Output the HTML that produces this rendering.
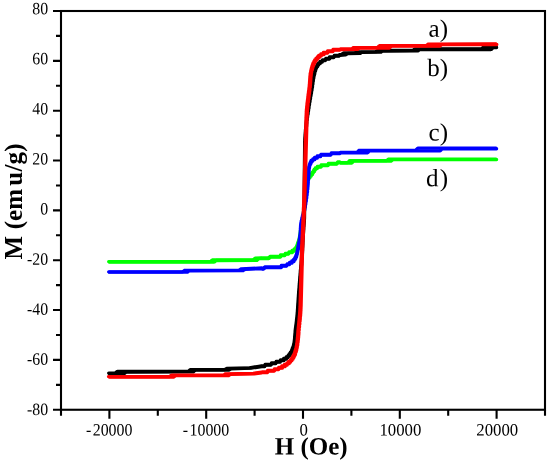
<!DOCTYPE html>
<html><head><meta charset="utf-8"><title>M-H curves</title>
<style>
html,body{margin:0;padding:0;background:#fff;}
body{width:550px;height:460px;overflow:hidden;}
svg{display:block;}
text{font-family:"Liberation Serif","Times New Roman",serif;fill:#000;}
.tk{font-size:17.3px;}
.cl{font-size:25px;}
.ax{font-size:25px;font-weight:bold;}
</style></head><body>
<svg width="550" height="460" viewBox="0 0 550 460">
<rect width="550" height="460" fill="#fff"/>
<polyline points="108.7,261.6 210.2,261.5 210.6,261.4 211.9,260.3 212.3,260.0 212.7,259.9 252.7,259.9 253.2,259.8 254.8,258.4 255.2,258.2 261.7,258.0 262.2,258.0 269.7,258.0 270.2,256.5 280.0,256.5 280.5,255.0 284.8,255.0 285.3,253.5 288.5,253.5 289.0,252.0 291.7,252.0 292.1,250.5 293.8,250.5 294.2,249.0 295.6,249.0 295.8,247.5 296.3,247.5 296.6,246.0 297.0,246.0 297.1,244.5 297.4,244.5 297.6,243.0 298.0,243.0 298.2,241.5 298.5,241.5 298.7,240.0 299.0,240.0 299.1,238.5 299.3,238.5 299.4,237.0 299.5,237.0 299.6,235.5 299.8,235.5 299.9,234.0 300.0,234.0 300.1,232.5 300.3,232.5 300.3,231.0 300.5,231.0 300.6,229.5 300.7,229.5 300.8,228.0 300.9,228.0 301.0,226.5 301.1,226.5 301.2,225.0 301.4,225.0 301.5,223.5 301.6,223.5 301.7,222.0 301.9,222.0 301.9,220.5 302.1,220.5 302.2,219.0 302.4,219.0 302.4,217.5 302.6,217.5 302.7,216.0 302.9,216.0 303.0,214.5 303.2,214.5 303.3,213.0 303.4,213.0 303.5,211.5 303.6,211.5 303.7,210.0 303.8,210.0 303.9,208.5 304.0,208.5 304.1,207.0 304.2,207.0 304.2,205.5 304.3,205.5 304.4,204.0 304.5,204.0 304.6,202.5 304.7,202.5 304.7,201.0 304.8,201.0 304.9,199.5 305.0,199.5 305.0,198.0 305.1,198.0 305.2,196.5 305.3,196.5 305.3,195.0 305.4,195.0 305.5,193.5 305.5,193.5 305.6,192.0 305.7,192.0 305.7,190.5 305.8,190.5 305.8,189.0 305.9,189.0 306.0,187.5 306.1,187.5 306.1,186.0 306.3,186.0 306.3,184.5 306.5,184.5 306.6,183.0 306.8,183.0 306.9,181.5 307.1,181.5 307.3,180.0 307.6,180.0 307.8,178.5 308.5,178.5 308.8,177.0 309.4,177.0 309.7,175.5 310.6,175.5 310.9,174.0 311.8,174.0 312.1,172.5 312.9,172.5 313.2,171.0 313.8,171.0 314.1,169.5 314.9,169.5 315.3,168.0 316.8,168.0 317.3,166.5 320.6,166.5 321.1,165.0 328.0,165.0 328.4,163.5 337.3,163.5 337.8,162.0 339.8,162.0 340.3,162.6 347.3,162.6 347.8,162.5 348.2,162.2 349.3,160.9 349.7,160.6 350.1,160.6 386.6,160.5 387.1,160.3 388.3,159.3 388.8,159.1 496.0,159.1" fill="none" stroke="#00ff00" stroke-width="3.3" stroke-linejoin="round" stroke-linecap="round"/>
<polyline points="109.3,262.1 213.8,262.1 214.3,262.0 214.7,261.8 215.9,260.7 216.4,260.5 256.4,260.4 256.8,260.4 257.2,260.2 258.4,259.0 258.8,258.7 261.8,258.5 262.3,258.6 268.8,258.6 269.3,257.1 280.6,257.1 281.1,255.6 284.9,255.6 285.4,254.1 288.6,254.1 289.1,252.6 292.3,252.6 292.7,251.1 294.4,251.1 294.8,249.6 295.9,249.6 296.2,248.1 296.9,248.1 297.2,246.6 297.6,246.6 297.7,245.1 298.0,245.1 298.2,243.6 298.5,243.6 298.6,242.1 299.1,242.1 299.3,240.6 299.6,240.6 299.7,239.1 299.9,239.1 300.0,237.6 300.1,237.6 300.2,236.1 300.4,236.1 300.5,234.6 300.6,234.6 300.7,233.1 300.9,233.1 300.9,231.6 301.1,231.6 301.2,230.1 301.3,230.1 301.4,228.6 301.5,228.6 301.6,227.1 301.7,227.1 301.8,225.6 302.0,225.6 302.1,224.1 302.2,224.1 302.3,222.6 302.5,222.6 302.5,221.1 302.7,221.1 302.8,219.6 303.0,219.6 303.0,218.1 303.2,218.1 303.3,216.6 303.5,216.6 303.5,215.1 303.7,215.1 303.8,213.6 303.9,213.6 304.0,212.1 304.1,212.1 304.2,210.6 304.3,210.6 304.4,209.1 304.5,209.1 304.6,207.6 304.8,207.6 304.8,206.1 304.9,206.1 305.0,204.6 305.1,204.6 305.2,203.1 305.3,203.1 305.3,201.6 305.4,201.6 305.5,200.1 305.6,200.1 305.6,198.6 305.7,198.6 305.8,197.1 305.9,197.1 305.9,195.6 306.0,195.6 306.1,194.1 306.1,194.1 306.2,192.6 306.3,192.6 306.3,191.1 306.4,191.1 306.4,189.6 306.5,189.6 306.6,188.1 306.7,188.1 306.7,186.6 306.9,186.6 306.9,185.1 307.1,185.1 307.2,183.6 307.4,183.6 307.5,182.1 307.7,182.1 307.9,180.6 308.2,180.6 308.4,179.1 308.8,179.1 309.1,177.6 310.0,177.6 310.3,176.1 311.2,176.1 311.5,174.6 312.4,174.6 312.7,173.1 313.3,173.1 313.5,171.6 314.4,171.6 314.7,170.1 315.2,170.1 315.5,168.6 317.4,168.6 317.9,167.1 321.2,167.1 321.7,165.6 328.1,165.6 328.6,164.1 336.9,164.1 337.4,162.6 339.9,162.6 340.4,163.1 351.4,163.1 351.8,163.0 352.2,162.7 353.4,161.4 353.8,161.1 354.2,161.1 391.2,161.0 391.6,160.8 392.9,159.8 393.4,159.6 496.6,159.6" fill="none" stroke="#00ff00" stroke-width="3.3" stroke-linejoin="round" stroke-linecap="round"/>
<polyline points="108.7,271.8 182.2,271.8 182.7,271.7 183.1,271.5 184.4,270.5 184.8,270.3 238.8,270.2 239.2,270.1 241.0,269.0 241.4,268.8 261.9,268.0 262.4,268.5 264.4,268.5 264.9,267.0 280.8,267.0 281.3,265.5 286.6,265.5 287.1,264.0 289.2,264.0 289.6,262.5 291.4,262.5 291.8,261.0 293.3,261.0 293.6,259.5 294.5,259.5 294.7,258.0 295.2,258.0 295.5,256.5 295.9,256.5 296.0,255.0 296.4,255.0 296.6,253.5 296.8,253.5 296.9,252.0 297.1,252.0 297.2,250.5 297.4,250.5 297.5,249.0 297.7,249.0 297.8,247.5 297.9,247.5 298.0,246.0 298.2,246.0 298.3,244.5 298.5,244.5 298.6,243.0 298.8,243.0 298.9,241.5 299.1,241.5 299.2,240.0 299.3,240.0 299.4,238.5 299.6,238.5 299.6,237.0 299.8,237.0 299.8,235.5 300.0,235.5 300.0,234.0 300.1,234.0 300.2,232.5 300.3,232.5 300.3,231.0 300.3,231.0 300.4,229.5 300.4,229.5 300.4,228.0 300.5,228.0 300.5,226.5 300.6,226.5 300.6,225.0 300.7,225.0 300.8,223.5 300.9,223.5 301.0,222.0 301.2,222.0 301.3,220.5 301.6,220.5 301.7,219.0 301.9,219.0 302.0,217.5 302.2,217.5 302.4,216.0 302.7,216.0 302.8,214.5 303.1,214.5 303.2,213.0 303.4,213.0 303.5,211.5 303.7,211.5 303.8,210.0 304.0,210.0 304.1,208.5 304.3,208.5 304.4,207.0 304.6,207.0 304.7,205.5 304.9,205.5 304.9,204.0 305.1,204.0 305.2,202.5 305.3,202.5 305.4,201.0 305.6,201.0 305.7,199.5 305.8,199.5 305.9,198.0 306.0,198.0 306.1,196.5 306.2,196.5 306.3,195.0 306.4,195.0 306.5,193.5 306.6,193.5 306.7,192.0 306.8,192.0 306.9,190.5 307.0,190.5 307.0,189.0 307.1,189.0 307.2,187.5 307.2,187.5 307.3,186.0 307.4,186.0 307.4,184.5 307.5,184.5 307.5,183.0 307.6,183.0 307.6,181.5 307.7,181.5 307.7,180.0 307.8,180.0 307.9,178.5 307.9,178.5 308.0,177.0 308.0,177.0 308.1,175.5 308.1,175.5 308.2,174.0 308.2,174.0 308.3,172.5 308.3,172.5 308.4,171.0 308.4,171.0 308.5,169.5 308.6,169.5 308.6,168.0 308.7,168.0 308.8,166.5 309.1,166.5 309.3,165.0 309.6,165.0 309.8,163.5 310.2,163.5 310.4,162.0 310.9,162.0 311.1,160.5 312.5,160.5 312.9,159.0 314.2,159.0 314.6,157.5 316.7,157.5 317.2,156.0 320.4,156.0 320.9,154.5 330.8,154.5 331.3,153.0 339.9,153.0 340.4,152.3 357.0,152.3 357.4,152.1 358.5,150.8 358.9,150.4 359.3,150.3 415.3,150.2 415.7,150.2 416.1,149.9 417.3,148.6 417.7,148.3 418.1,148.2 496.0,148.2" fill="none" stroke="#0000ff" stroke-width="3.3" stroke-linejoin="round" stroke-linecap="round"/>
<polyline points="109.3,272.2 186.8,272.2 187.3,272.2 187.7,272.0 189.0,271.0 189.4,270.8 242.9,270.7 243.3,270.5 244.6,269.6 245.1,269.4 261.5,268.6 262.0,269.1 263.5,269.1 264.0,267.6 281.4,267.6 281.9,266.1 286.7,266.1 287.2,264.6 289.4,264.6 289.8,263.1 292.0,263.1 292.4,261.6 293.9,261.6 294.2,260.1 295.1,260.1 295.3,258.6 295.8,258.6 296.1,257.1 296.5,257.1 296.6,255.6 296.9,255.6 297.0,254.1 297.3,254.1 297.4,252.6 297.6,252.6 297.7,251.1 297.9,251.1 298.0,249.6 298.3,249.6 298.4,248.1 298.5,248.1 298.6,246.6 298.8,246.6 298.9,245.1 299.1,245.1 299.2,243.6 299.4,243.6 299.5,242.1 299.7,242.1 299.8,240.6 299.9,240.6 300.0,239.1 300.2,239.1 300.2,237.6 300.4,237.6 300.4,236.1 300.6,236.1 300.6,234.6 300.7,234.6 300.8,233.1 300.9,233.1 300.9,231.6 300.9,231.6 301.0,230.1 301.0,230.1 301.0,228.6 301.1,228.6 301.1,227.1 301.2,227.1 301.2,225.6 301.3,225.6 301.4,224.1 301.5,224.1 301.6,222.6 301.8,222.6 301.9,221.1 302.2,221.1 302.3,219.6 302.5,219.6 302.6,218.1 302.8,218.1 303.0,216.6 303.2,216.6 303.3,215.1 303.5,215.1 303.7,213.6 304.0,213.6 304.1,212.1 304.3,212.1 304.4,210.6 304.6,210.6 304.7,209.1 304.9,209.1 305.0,207.6 305.2,207.6 305.3,206.1 305.5,206.1 305.5,204.6 305.7,204.6 305.8,203.1 305.9,203.1 306.0,201.6 306.2,201.6 306.3,200.1 306.4,200.1 306.5,198.6 306.6,198.6 306.7,197.1 306.8,197.1 306.9,195.6 307.0,195.6 307.1,194.1 307.2,194.1 307.3,192.6 307.4,192.6 307.5,191.1 307.6,191.1 307.6,189.6 307.7,189.6 307.8,188.1 307.8,188.1 307.9,186.6 308.0,186.6 308.0,185.1 308.1,185.1 308.1,183.6 308.2,183.6 308.2,182.1 308.3,182.1 308.3,180.6 308.4,180.6 308.5,179.1 308.5,179.1 308.6,177.6 308.6,177.6 308.7,176.1 308.7,176.1 308.8,174.6 308.8,174.6 308.9,173.1 308.9,173.1 309.0,171.6 309.0,171.6 309.1,170.1 309.2,170.1 309.2,168.6 309.3,168.6 309.4,167.1 309.6,167.1 309.7,165.6 310.0,165.6 310.2,164.1 310.8,164.1 311.0,162.6 311.5,162.6 311.7,161.1 312.7,161.1 313.1,159.6 314.8,159.6 315.2,158.1 317.3,158.1 317.7,156.6 320.6,156.6 321.0,155.1 330.9,155.1 331.4,153.6 339.8,153.6 340.7,153.1 341.1,152.9 367.2,152.8 367.6,152.8 368.0,152.5 369.1,151.2 369.5,150.9 369.9,150.8 439.9,150.8 440.3,150.7 440.7,150.4 441.9,149.1 442.3,148.8 442.7,148.8 496.6,148.8" fill="none" stroke="#0000ff" stroke-width="3.3" stroke-linejoin="round" stroke-linecap="round"/>
<polyline points="108.7,373.1 114.7,373.1 115.2,373.0 115.6,372.7 116.8,371.6 117.3,371.5 188.2,371.4 188.6,371.2 189.8,370.0 190.2,369.7 190.7,369.6 224.7,369.6 225.1,369.4 226.4,368.5 226.9,368.4 249.4,367.8 261.7,365.9 262.2,366.0 264.7,366.0 265.1,364.5 271.0,364.5 271.5,363.0 275.8,363.0 276.2,361.5 280.0,361.5 280.5,360.0 283.3,360.0 283.7,358.5 285.8,358.5 286.2,357.0 287.7,357.0 288.1,355.5 288.8,355.5 289.1,354.0 290.1,354.0 290.3,352.5 291.1,352.5 291.3,351.0 291.7,351.0 291.9,349.5 292.2,349.5 292.4,348.0 292.9,348.0 293.1,346.5 293.3,346.5 293.5,345.0 293.7,345.0 293.8,343.5 294.0,343.5 294.1,342.0 294.2,342.0 294.3,340.5 294.4,340.5 294.5,339.0 294.6,339.0 294.6,337.5 294.7,337.5 294.7,336.0 294.8,336.0 294.9,334.5 294.9,334.5 295.0,333.0 295.1,333.0 295.1,331.5 295.2,331.5 295.2,330.0 295.3,330.0 295.4,328.5 295.5,328.5 295.6,327.0 295.7,327.0 295.8,325.5 295.9,325.5 296.0,324.0 296.1,324.0 296.2,322.5 296.3,322.5 296.4,321.0 296.5,321.0 296.5,319.5 296.7,319.5 296.7,318.0 296.8,318.0 296.9,316.5 297.0,316.5 297.0,315.0 297.1,315.0 297.2,313.5 297.2,313.5 297.3,312.0 297.4,312.0 297.4,310.5 297.5,310.5 297.5,309.0 297.6,309.0 297.6,307.5 297.7,307.5 297.7,306.0 297.8,306.0 297.8,304.5 297.9,304.5 297.9,303.0 298.0,303.0 298.0,301.5 298.1,301.5 298.1,300.0 298.2,300.0 298.2,298.5 298.3,298.5 298.3,297.0 298.4,297.0 298.4,295.5 298.5,295.5 298.5,294.0 298.6,294.0 298.6,292.5 298.7,292.5 298.7,291.0 298.8,291.0 298.9,289.5 298.9,289.5 299.0,288.0 299.1,288.0 299.1,286.5 299.2,286.5 299.2,285.0 299.3,285.0 299.3,283.5 299.4,283.5 299.5,282.0 299.5,282.0 299.6,280.5 299.7,280.5 299.7,279.0 299.8,279.0 299.8,277.5 299.9,277.5 299.9,276.0 300.0,276.0 300.1,274.5 300.1,274.5 300.2,273.0 300.3,273.0 300.3,271.5 300.4,271.5 300.4,270.0 300.5,270.0 300.6,268.5 300.7,268.5 300.7,267.0 300.8,267.0 300.8,265.5 300.9,265.5 301.0,264.0 301.1,264.0 301.1,262.5 301.2,262.5 301.2,261.0 301.3,261.0 301.3,259.5 301.4,259.5 301.4,258.0 301.5,258.0 301.5,256.5 301.6,256.5 301.6,255.0 301.7,255.0 301.7,253.5 301.8,253.5 301.8,252.0 301.9,252.0 301.9,250.5 301.9,250.5 302.0,249.0 302.0,249.0 302.0,247.5 302.1,247.5 302.1,246.0 302.2,246.0 302.2,244.5 302.2,244.5 302.3,243.0 302.3,243.0 302.3,241.5 302.4,241.5 302.4,240.0 302.4,240.0 302.5,238.5 302.5,238.5 302.5,237.0 302.6,237.0 302.6,235.5 302.7,235.5 302.7,234.0 302.8,234.0 302.8,232.5 302.9,232.5 302.9,231.0 303.0,231.0 303.0,229.5 303.1,229.5 303.1,228.0 303.2,228.0 303.2,226.5 303.3,226.5 303.4,225.0 303.4,225.0 303.5,223.5 303.5,223.5 303.6,222.0 303.6,222.0 303.7,220.5 303.7,220.5 303.8,219.0 303.8,219.0 303.9,217.5 303.9,217.5 304.7,142.5 304.7,142.5 304.7,141.0 304.8,141.0 304.8,139.5 304.8,139.5 304.9,138.0 304.9,138.0 305.0,136.5 305.0,136.5 305.1,135.0 305.1,135.0 305.2,133.5 305.3,133.5 305.3,132.0 305.4,132.0 305.4,130.5 305.5,130.5 305.5,129.0 305.7,129.0 305.7,127.5 305.8,127.5 305.9,126.0 306.0,126.0 306.0,124.5 306.1,124.5 306.1,123.0 306.2,123.0 306.3,121.5 306.4,121.5 306.5,120.0 306.6,120.0 306.7,118.5 306.8,118.5 306.8,117.0 307.0,117.0 307.0,115.5 307.2,115.5 307.3,114.0 307.4,114.0 307.5,112.5 307.6,112.5 307.7,111.0 307.8,111.0 307.9,109.5 308.1,109.5 308.1,108.0 308.3,108.0 308.4,106.5 308.5,106.5 308.6,105.0 308.7,105.0 308.8,103.5 309.0,103.5 309.1,102.0 309.2,102.0 309.3,100.5 309.5,100.5 309.6,99.0 309.7,99.0 309.8,97.5 310.0,97.5 310.1,96.0 310.2,96.0 310.3,94.5 310.5,94.5 310.6,93.0 310.8,93.0 310.9,91.5 311.0,91.5 311.1,90.0 311.3,90.0 311.4,88.5 311.5,88.5 311.6,87.0 311.8,87.0 311.9,85.5 312.0,85.5 312.1,84.0 312.2,84.0 312.3,82.5 312.5,82.5 312.6,81.0 312.7,81.0 312.8,79.5 312.9,79.5 313.0,78.0 313.2,78.0 313.3,76.5 313.4,76.5 313.5,75.0 313.7,75.0 313.8,73.5 314.1,73.5 314.2,72.0 314.4,72.0 314.6,70.5 314.9,70.5 315.0,69.0 315.4,69.0 315.6,67.5 316.2,67.5 316.4,66.0 317.0,66.0 317.3,64.5 318.2,64.5 318.6,63.0 319.6,63.0 320.0,61.5 322.0,61.5 322.5,60.0 325.3,60.0 325.8,58.5 329.0,58.5 329.5,57.0 333.8,57.0 334.3,55.5 339.6,55.5 340.1,54.7 341.5,54.3 343.3,53.2 343.7,53.0 354.7,52.9 355.1,52.7 356.5,51.9 356.9,51.8 375.4,51.7 375.9,51.6 377.2,50.7 377.7,50.5 378.1,50.5 412.6,50.4 413.0,50.2 414.3,49.2 414.8,49.0 481.2,48.9 481.6,48.8 483.2,47.2 483.6,47.1 496.0,47.0" fill="none" stroke="#000000" stroke-width="3.3" stroke-linejoin="round" stroke-linecap="round"/>
<polyline points="109.3,373.6 123.8,373.6 124.3,373.5 124.7,373.3 125.9,372.2 126.4,372.0 192.9,371.9 193.3,371.9 193.7,371.6 194.9,370.4 195.3,370.2 195.8,370.1 228.8,370.1 229.2,370.0 230.5,369.1 231.0,368.9 250.9,368.2 261.8,366.5 262.3,366.6 264.8,366.6 265.3,365.1 271.1,365.1 271.6,363.6 275.9,363.6 276.4,362.1 280.2,362.1 280.6,360.6 283.9,360.6 284.3,359.1 286.4,359.1 286.8,357.6 287.9,357.6 288.3,356.1 289.4,356.1 289.7,354.6 290.7,354.6 290.9,353.1 291.4,353.1 291.7,351.6 292.3,351.6 292.5,350.1 292.8,350.1 293.0,348.6 293.4,348.6 293.5,347.1 293.8,347.1 293.9,345.6 294.2,345.6 294.3,344.1 294.5,344.1 294.6,342.6 294.8,342.6 294.8,341.1 295.0,341.1 295.1,339.6 295.2,339.6 295.2,338.1 295.3,338.1 295.3,336.6 295.4,336.6 295.5,335.1 295.5,335.1 295.6,333.6 295.7,333.6 295.7,332.1 295.8,332.1 295.8,330.6 295.9,330.6 296.0,329.1 296.1,329.1 296.2,327.6 296.3,327.6 296.4,326.1 296.5,326.1 296.6,324.6 296.7,324.6 296.8,323.1 296.9,323.1 297.0,321.6 297.1,321.6 297.1,320.1 297.3,320.1 297.3,318.6 297.4,318.6 297.5,317.1 297.6,317.1 297.6,315.6 297.7,315.6 297.8,314.1 297.8,314.1 297.9,312.6 298.0,312.6 298.0,311.1 298.1,311.1 298.1,309.6 298.2,309.6 298.2,308.1 298.3,308.1 298.3,306.6 298.4,306.6 298.4,305.1 298.5,305.1 298.5,303.6 298.6,303.6 298.6,302.1 298.7,302.1 298.7,300.6 298.8,300.6 298.8,299.1 298.9,299.1 298.9,297.6 299.0,297.6 299.0,296.1 299.1,296.1 299.1,294.6 299.2,294.6 299.2,293.1 299.3,293.1 299.3,291.6 299.4,291.6 299.5,290.1 299.5,290.1 299.6,288.6 299.7,288.6 299.7,287.1 299.8,287.1 299.8,285.6 299.9,285.6 299.9,284.1 300.0,284.1 300.1,282.6 300.1,282.6 300.2,281.1 300.3,281.1 300.3,279.6 300.4,279.6 300.4,278.1 300.5,278.1 300.5,276.6 300.6,276.6 300.7,275.1 300.7,275.1 300.8,273.6 300.9,273.6 300.9,272.1 301.0,272.1 301.0,270.6 301.1,270.6 301.2,269.1 301.3,269.1 301.3,267.6 301.4,267.6 301.4,266.1 301.5,266.1 301.6,264.6 301.7,264.6 301.7,263.1 301.8,263.1 301.8,261.6 301.9,261.6 301.9,260.1 302.0,260.1 302.0,258.6 302.1,258.6 302.1,257.1 302.2,257.1 302.2,255.6 302.3,255.6 302.3,254.1 302.4,254.1 302.4,252.6 302.5,252.6 302.5,251.1 302.5,251.1 302.6,249.6 302.6,249.6 302.6,248.1 302.7,248.1 302.7,246.6 302.8,246.6 302.8,245.1 302.8,245.1 302.9,243.6 302.9,243.6 302.9,242.1 303.0,242.1 303.0,240.6 303.0,240.6 303.1,239.1 303.1,239.1 303.1,237.6 303.2,237.6 303.2,236.1 303.3,236.1 303.3,234.6 303.4,234.6 303.4,233.1 303.5,233.1 303.5,231.6 303.6,231.6 303.6,230.1 303.7,230.1 303.7,228.6 303.8,228.6 303.8,227.1 303.9,227.1 304.0,225.6 304.0,225.6 304.1,224.1 304.1,224.1 304.2,222.6 304.2,222.6 304.3,221.1 304.3,221.1 304.4,219.6 304.4,219.6 304.5,218.1 304.5,218.1 305.3,143.1 305.3,143.1 305.3,141.6 305.4,141.6 305.4,140.1 305.4,140.1 305.5,138.6 305.5,138.6 305.6,137.1 305.6,137.1 305.7,135.6 305.7,135.6 305.8,134.1 305.9,134.1 305.9,132.6 306.0,132.6 306.0,131.1 306.1,131.1 306.1,129.6 306.2,129.6 306.3,128.1 306.4,128.1 306.4,126.6 306.5,126.6 306.6,125.1 306.6,125.1 306.7,123.6 306.8,123.6 306.8,122.1 307.0,122.1 307.0,120.6 307.1,120.6 307.2,119.1 307.3,119.1 307.4,117.6 307.5,117.6 307.6,116.1 307.7,116.1 307.8,114.6 308.0,114.6 308.1,113.1 308.2,113.1 308.3,111.6 308.4,111.6 308.5,110.1 308.7,110.1 308.7,108.6 308.9,108.6 309.0,107.1 309.1,107.1 309.2,105.6 309.3,105.6 309.4,104.1 309.6,104.1 309.7,102.6 309.8,102.6 309.9,101.1 310.1,101.1 310.2,99.6 310.3,99.6 310.4,98.1 310.6,98.1 310.7,96.6 310.8,96.6 310.9,95.1 311.1,95.1 311.2,93.6 311.4,93.6 311.5,92.1 311.6,92.1 311.7,90.6 311.9,90.6 312.0,89.1 312.1,89.1 312.2,87.6 312.4,87.6 312.5,86.1 312.6,86.1 312.7,84.6 312.8,84.6 312.9,83.1 313.0,83.1 313.1,81.6 313.2,81.6 313.3,80.1 313.5,80.1 313.5,78.6 313.7,78.6 313.8,77.1 314.0,77.1 314.0,75.6 314.3,75.6 314.4,74.1 314.7,74.1 314.8,72.6 315.0,72.6 315.2,71.1 315.5,71.1 315.6,69.6 316.0,69.6 316.2,68.1 316.6,68.1 316.8,66.6 317.6,66.6 317.9,65.1 318.5,65.1 318.8,63.6 320.2,63.6 320.6,62.1 322.2,62.1 322.6,60.6 325.4,60.6 325.9,59.1 329.6,59.1 330.1,57.6 333.9,57.6 334.4,56.1 339.2,56.1 339.7,54.6 340.2,55.3 345.2,54.9 345.7,54.8 346.1,54.6 347.4,53.7 347.9,53.5 359.8,53.4 360.3,53.3 361.6,52.4 362.1,52.3 380.6,52.2 381.0,52.1 382.3,51.2 382.8,51.0 417.7,50.9 418.2,50.7 419.4,49.7 419.9,49.5 490.9,49.5 491.3,49.4 491.7,49.1 492.9,47.9 493.3,47.6 493.7,47.5 496.6,47.5" fill="none" stroke="#000000" stroke-width="3.3" stroke-linejoin="round" stroke-linecap="round"/>
<polyline points="108.5,376.6 169.0,376.6 169.5,376.6 169.9,376.4 171.2,375.4 171.6,375.2 223.1,375.1 223.6,375.1 224.0,374.8 225.3,373.9 225.7,373.8 253.2,373.3 261.7,372.2 262.2,372.0 267.1,372.0 267.6,370.5 273.9,370.5 274.4,369.0 278.2,369.0 278.7,367.5 281.4,367.5 281.8,366.0 284.1,366.0 284.5,364.5 286.6,364.5 287.0,363.0 288.2,363.0 288.5,361.5 289.9,361.5 290.2,360.0 291.2,360.0 291.5,358.5 292.1,358.5 292.4,357.0 292.9,357.0 293.2,355.5 293.8,355.5 294.0,354.0 294.4,354.0 294.5,352.5 294.8,352.5 295.0,351.0 295.3,351.0 295.4,349.5 295.8,349.5 295.9,348.0 296.1,348.0 296.2,346.5 296.4,346.5 296.5,345.0 296.7,345.0 296.7,343.5 296.9,343.5 297.0,342.0 297.1,342.0 297.1,340.5 297.2,340.5 297.3,339.0 297.4,339.0 297.4,337.5 297.5,337.5 297.6,336.0 297.6,336.0 297.7,334.5 297.8,334.5 297.8,333.0 297.9,333.0 297.9,331.5 298.0,331.5 298.0,330.0 298.1,330.0 298.2,328.5 298.3,328.5 298.3,327.0 298.4,327.0 298.5,325.5 298.6,325.5 298.6,324.0 298.7,324.0 298.8,322.5 298.9,322.5 298.9,321.0 299.0,321.0 299.1,319.5 299.2,319.5 299.2,318.0 299.3,318.0 299.3,316.5 299.4,316.5 299.5,315.0 299.6,315.0 299.6,313.5 299.7,313.5 299.7,312.0 299.8,312.0 299.8,310.5 299.9,310.5 299.9,309.0 299.9,309.0 300.0,307.5 300.0,307.5 300.0,306.0 300.1,306.0 300.1,304.5 300.1,304.5 301.5,250.5 301.6,250.5 301.6,249.0 301.6,249.0 301.7,247.5 301.7,247.5 301.7,246.0 301.8,246.0 301.8,244.5 301.9,244.5 301.9,243.0 301.9,243.0 302.0,241.5 302.0,241.5 302.0,240.0 302.1,240.0 302.1,238.5 302.1,238.5 302.2,237.0 302.2,237.0 302.2,235.5 302.3,235.5 302.3,234.0 302.4,234.0 302.4,232.5 302.4,232.5 302.4,231.0 302.5,231.0 302.5,229.5 302.6,229.5 302.6,228.0 302.6,228.0 302.7,226.5 302.7,226.5 302.7,225.0 302.8,225.0 302.8,223.5 302.8,223.5 302.9,222.0 302.9,222.0 302.9,220.5 303.0,220.5 303.0,219.0 303.0,219.0 303.1,217.5 303.1,217.5 303.1,216.0 303.2,216.0 303.2,214.5 303.2,214.5 303.3,213.0 303.3,213.0 303.3,211.5 303.4,211.5 303.4,210.0 303.4,210.0 303.4,208.5 303.5,208.5 303.5,207.0 303.6,207.0 303.6,205.5 303.6,205.5 303.6,204.0 303.7,204.0 303.7,202.5 303.7,202.5 306.0,118.5 306.0,118.5 306.0,117.0 306.1,117.0 306.1,115.5 306.2,115.5 306.2,114.0 306.2,114.0 306.3,112.5 306.3,112.5 306.3,111.0 306.4,111.0 306.4,109.5 306.5,109.5 306.6,108.0 306.7,108.0 306.7,106.5 306.8,106.5 306.9,105.0 307.0,105.0 307.0,103.5 307.1,103.5 307.2,102.0 307.3,102.0 307.4,100.5 307.5,100.5 307.6,99.0 307.7,99.0 307.8,97.5 307.9,97.5 307.9,96.0 308.1,96.0 308.1,94.5 308.3,94.5 308.3,93.0 308.5,93.0 308.5,91.5 308.7,91.5 308.7,90.0 308.9,90.0 308.9,88.5 309.0,88.5 309.1,87.0 309.2,87.0 309.3,85.5 309.3,85.5 309.4,84.0 309.5,84.0 309.5,82.5 309.6,82.5 309.6,81.0 309.7,81.0 309.7,79.5 309.8,79.5 309.8,78.0 309.9,78.0 309.9,76.5 310.0,76.5 310.1,75.0 310.2,75.0 310.2,73.5 310.4,73.5 310.5,72.0 310.7,72.0 310.8,70.5 311.0,70.5 311.1,69.0 311.4,69.0 311.5,67.5 311.8,67.5 312.0,66.0 312.3,66.0 312.5,64.5 312.9,64.5 313.0,63.0 313.7,63.0 313.9,61.5 314.5,61.5 314.7,60.0 315.6,60.0 315.9,58.5 316.9,58.5 317.2,57.0 318.3,57.0 318.7,55.5 320.3,55.5 320.8,54.0 323.0,54.0 323.4,52.5 327.2,52.5 327.6,51.0 332.5,51.0 333.0,49.5 339.9,49.5 340.4,49.0 351.4,48.9 351.8,48.8 353.1,47.8 353.5,47.6 377.0,47.5 377.5,47.5 377.9,47.2 379.1,46.0 379.5,45.7 379.9,45.6 425.9,45.6 426.3,45.5 428.0,44.2 428.4,44.1 495.8,44.0" fill="none" stroke="#ff0000" stroke-width="3.3" stroke-linejoin="round" stroke-linecap="round"/>
<polyline points="109.5,377.1 173.0,377.1 173.5,377.1 173.9,376.9 175.2,375.9 175.6,375.7 228.1,375.6 228.6,375.6 229.0,375.3 230.3,374.4 230.7,374.3 254.2,373.8 261.7,372.8 262.2,372.6 267.6,372.6 268.1,371.1 274.4,371.1 274.9,369.6 278.7,369.6 279.2,368.1 282.4,368.1 282.8,366.6 285.1,366.6 285.5,365.1 287.2,365.1 287.6,363.6 289.2,363.6 289.5,362.1 290.6,362.1 290.9,360.6 291.9,360.6 292.2,359.1 293.1,359.1 293.4,357.6 293.9,357.6 294.2,356.1 294.8,356.1 295.0,354.6 295.4,354.6 295.5,353.1 295.8,353.1 296.0,351.6 296.3,351.6 296.4,350.1 296.7,350.1 296.8,348.6 297.0,348.6 297.1,347.1 297.3,347.1 297.4,345.6 297.6,345.6 297.7,344.1 297.8,344.1 297.9,342.6 298.0,342.6 298.1,341.1 298.2,341.1 298.2,339.6 298.4,339.6 298.4,338.1 298.5,338.1 298.6,336.6 298.6,336.6 298.7,335.1 298.8,335.1 298.8,333.6 298.9,333.6 298.9,332.1 299.0,332.1 299.0,330.6 299.1,330.6 299.2,329.1 299.3,329.1 299.3,327.6 299.4,327.6 299.5,326.1 299.6,326.1 299.6,324.6 299.7,324.6 299.8,323.1 299.9,323.1 299.9,321.6 300.0,321.6 300.1,320.1 300.2,320.1 300.2,318.6 300.3,318.6 300.3,317.1 300.4,317.1 300.5,315.6 300.6,315.6 300.6,314.1 300.7,314.1 300.7,312.6 300.8,312.6 300.8,311.1 300.9,311.1 300.9,309.6 300.9,309.6 301.0,308.1 301.0,308.1 301.0,306.6 301.1,306.6 301.1,305.1 301.1,305.1 302.5,251.1 302.6,251.1 302.6,249.6 302.6,249.6 302.7,248.1 302.7,248.1 302.7,246.6 302.8,246.6 302.8,245.1 302.9,245.1 302.9,243.6 302.9,243.6 303.0,242.1 303.0,242.1 303.0,240.6 303.1,240.6 303.1,239.1 303.1,239.1 303.2,237.6 303.2,237.6 303.2,236.1 303.3,236.1 303.3,234.6 303.4,234.6 303.4,233.1 303.4,233.1 303.4,231.6 303.5,231.6 303.5,230.1 303.6,230.1 303.6,228.6 303.6,228.6 303.7,227.1 303.7,227.1 303.7,225.6 303.8,225.6 303.8,224.1 303.8,224.1 303.9,222.6 303.9,222.6 303.9,221.1 304.0,221.1 304.0,219.6 304.0,219.6 304.1,218.1 304.1,218.1 304.1,216.6 304.2,216.6 304.2,215.1 304.2,215.1 304.3,213.6 304.3,213.6 304.3,212.1 304.4,212.1 304.4,210.6 304.4,210.6 304.4,209.1 304.5,209.1 304.5,207.6 304.6,207.6 304.6,206.1 304.6,206.1 304.6,204.6 304.7,204.6 304.7,203.1 304.7,203.1 307.0,119.1 307.0,119.1 307.0,117.6 307.1,117.6 307.1,116.1 307.2,116.1 307.2,114.6 307.2,114.6 307.3,113.1 307.3,113.1 307.3,111.6 307.4,111.6 307.4,110.1 307.5,110.1 307.6,108.6 307.7,108.6 307.7,107.1 307.8,107.1 307.9,105.6 308.0,105.6 308.0,104.1 308.1,104.1 308.2,102.6 308.3,102.6 308.4,101.1 308.5,101.1 308.6,99.6 308.7,99.6 308.8,98.1 308.9,98.1 308.9,96.6 309.1,96.6 309.1,95.1 309.3,95.1 309.3,93.6 309.5,93.6 309.5,92.1 309.7,92.1 309.7,90.6 309.9,90.6 309.9,89.1 310.0,89.1 310.1,87.6 310.2,87.6 310.3,86.1 310.3,86.1 310.4,84.6 310.5,84.6 310.5,83.1 310.6,83.1 310.6,81.6 310.7,81.6 310.7,80.1 310.8,80.1 310.8,78.6 310.9,78.6 310.9,77.1 311.0,77.1 311.1,75.6 311.2,75.6 311.2,74.1 311.4,74.1 311.4,72.6 311.6,72.6 311.7,71.1 311.9,71.1 312.0,69.6 312.4,69.6 312.5,68.1 312.8,68.1 313.0,66.6 313.3,66.6 313.5,65.1 313.9,65.1 314.0,63.6 314.5,63.6 314.7,62.1 315.5,62.1 315.7,60.6 316.3,60.6 316.6,59.1 317.6,59.1 317.9,57.6 319.3,57.6 319.7,56.1 321.3,56.1 321.8,54.6 324.0,54.6 324.4,53.1 327.7,53.1 328.2,51.6 333.0,51.6 333.5,50.1 339.9,50.1 340.4,49.6 357.4,49.4 357.8,49.3 359.1,48.3 359.5,48.1 389.0,48.0 389.5,48.0 389.9,47.7 391.1,46.5 391.5,46.2 391.9,46.1 439.4,46.1 439.8,46.1 440.3,45.8 441.5,44.7 442.0,44.6 496.8,44.5" fill="none" stroke="#ff0000" stroke-width="3.3" stroke-linejoin="round" stroke-linecap="round"/>
<rect x="61.0" y="11.0" width="484.0" height="398.75" fill="none" stroke="#000" stroke-width="2.1"/>
<path d="M53.0,409.75H61.0 M56.0,384.83H61.0 M53.0,359.91H61.0 M56.0,334.98H61.0 M53.0,310.06H61.0 M56.0,285.14H61.0 M53.0,260.22H61.0 M56.0,235.30H61.0 M53.0,210.38H61.0 M56.0,185.45H61.0 M53.0,160.53H61.0 M56.0,135.61H61.0 M53.0,110.69H61.0 M56.0,85.77H61.0 M53.0,60.84H61.0 M56.0,35.92H61.0 M53.0,11.00H61.0 M61.00,409.75V415.75 M109.40,409.75V418.75 M157.80,409.75V415.75 M206.20,409.75V418.75 M254.60,409.75V415.75 M303.00,409.75V418.75 M351.40,409.75V415.75 M399.80,409.75V418.75 M448.20,409.75V415.75 M496.60,409.75V418.75 M545.00,409.75V415.75" stroke="#000" stroke-width="2.1" fill="none"/>
<text transform="translate(48.2,14.20) rotate(0.03) scale(0.915,1)" text-anchor="end" class="tk">80</text>
<text transform="translate(48.2,64.29) rotate(0.03) scale(0.915,1)" text-anchor="end" class="tk">60</text>
<text transform="translate(48.2,114.38) rotate(0.03) scale(0.915,1)" text-anchor="end" class="tk">40</text>
<text transform="translate(48.2,164.47) rotate(0.03) scale(0.915,1)" text-anchor="end" class="tk">20</text>
<text transform="translate(48.2,214.56) rotate(0.03) scale(0.915,1)" text-anchor="end" class="tk">0</text>
<text transform="translate(48.2,264.65) rotate(0.03) scale(0.915,1)" text-anchor="end" class="tk">-20</text>
<text transform="translate(48.2,314.74) rotate(0.03) scale(0.915,1)" text-anchor="end" class="tk">-40</text>
<text transform="translate(48.2,364.83) rotate(0.03) scale(0.915,1)" text-anchor="end" class="tk">-60</text>
<text transform="translate(48.2,414.92) rotate(0.03) scale(0.915,1)" text-anchor="end" class="tk">-80</text>
<text transform="translate(109.2,435.5) rotate(0.03) scale(0.92,1)" text-anchor="middle" class="tk">-<tspan dx="1.6">20000</tspan></text>
<text transform="translate(206.0,435.5) rotate(0.03) scale(0.92,1)" text-anchor="middle" class="tk">-<tspan dx="1.6">10000</tspan></text>
<text transform="translate(303.6,435.5) rotate(0.03) scale(0.97,1)" text-anchor="middle" class="tk">0</text>
<text transform="translate(400.4,435.5) rotate(0.03) scale(0.97,1)" text-anchor="middle" class="tk">10000</text>
<text transform="translate(497.2,435.5) rotate(0.03) scale(0.97,1)" text-anchor="middle" class="tk">20000</text>
<text transform="translate(448,36.8) rotate(0.03)" text-anchor="end" class="cl">a)</text>
<text transform="translate(448,76) rotate(0.03)" text-anchor="end" class="cl">b)</text>
<text transform="translate(448,140.5) rotate(0.03)" text-anchor="end" class="cl">c)</text>
<text transform="translate(448,186.2) rotate(0.03)" text-anchor="end" class="cl">d<tspan dx='1.2'>)</tspan></text>
<text transform="translate(311.2,454.6) rotate(0.03)" text-anchor="middle" class="ax">H (Oe)</text>
<text transform="translate(22,259.5) rotate(-90)" class="ax" letter-spacing="0.15">M (em<tspan dx="3">u/g)</tspan></text>
</svg>
</body></html>
